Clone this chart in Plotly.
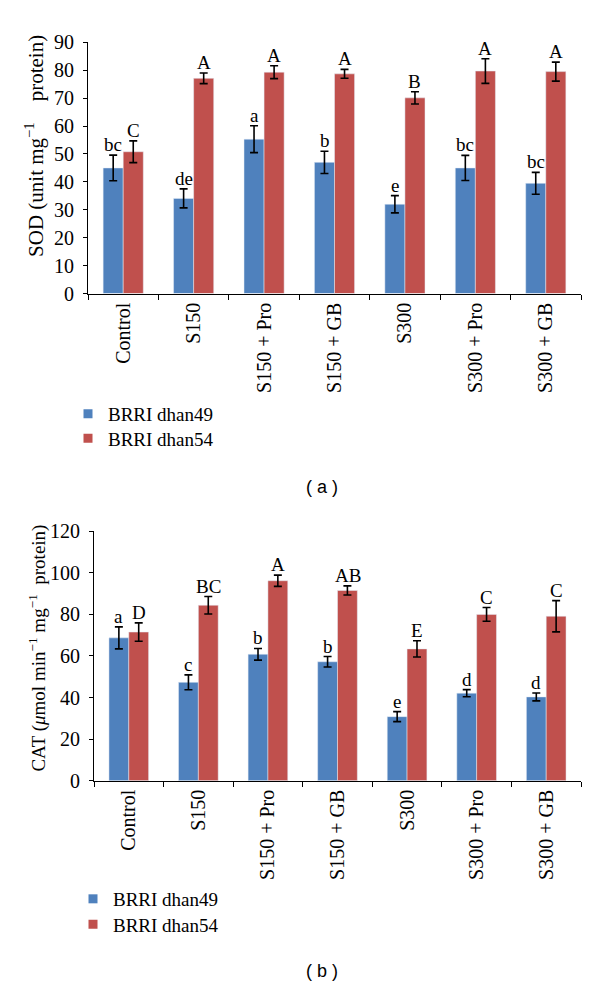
import plotly.graph_objects as go

categories = ["Control", "S150", "S150 + Pro", "S150 + GB", "S300", "S300 + Pro", "S300 + GB"]
series_names = ["BRRI dhan49", "BRRI dhan54"]

sod_49 = [45.0, 34.1, 55.3, 47.0, 32.0, 45.0, 39.5]
sod_49_err = [4.6, 3.4, 4.8, 4.0, 3.1, 4.5, 3.9]
sod_54 = [50.8, 77.1, 79.3, 78.7, 70.1, 79.7, 79.5]
sod_54_err = [3.9, 1.9, 2.3, 1.6, 2.2, 4.4, 3.4]
sod_49_letters = ["bc", "de", "a", "b", "e", "bc", "bc"]
sod_54_letters = ["C", "A", "A", "A", "B", "A", "A"]

cat_49 = [68.7, 47.3, 60.8, 57.2, 30.8, 42.1, 40.3]
cat_49_err = [5.3, 3.6, 2.8, 2.5, 2.4, 1.7, 1.9]
cat_54 = [71.5, 84.4, 96.2, 91.5, 63.4, 80.0, 79.1]
cat_54_err = [4.4, 4.2, 2.7, 2.2, 3.9, 3.3, 7.5]
cat_49_letters = ["a", "c", "b", "b", "e", "d", "d"]
cat_54_letters = ["D", "BC", "A", "AB", "E", "C", "C"]

sod_ticks = [0, 10, 20, 30, 40, 50, 60, 70, 80, 90]
cat_ticks = [0, 20, 40, 60, 80, 100, 120]

BLUE = "#4F81BD"
RED = "#C0504D"
SERIF = "Liberation Serif"
W, H = 600, 997
NB = "\u00a0"

fig = go.Figure()

def add_pair(xaxis, yaxis, v49, e49, v54, e54, legends):
    for vals, errs, col, nm in ((v49, e49, BLUE, series_names[0]), (v54, e54, RED, series_names[1])):
        fig.add_trace(go.Bar(x=categories, y=vals, name=nm, marker_color=col,
                             error_y=dict(type="data", array=errs, color="black", thickness=1.6, width=4),
                             xaxis=xaxis, yaxis=yaxis, showlegend=False))
    for col, nm, lg in ((BLUE, series_names[0], legends[0]), (RED, series_names[1], legends[1])):
        fig.add_trace(go.Scatter(x=[None], y=[None], mode="markers", name=nm,
                                 marker=dict(symbol="square", size=9, color=col),
                                 xaxis=xaxis, yaxis=yaxis, legend=lg, showlegend=True))

add_pair("x", "y", sod_49, sod_49_err, sod_54, sod_54_err, ("legend", "legend2"))
add_pair("x2", "y2", cat_49, cat_49_err, cat_54, cat_54_err, ("legend3", "legend4"))

def letters(xref, yref, vals, errs, labs, shift):
    for c, v, e, l in zip(categories, vals, errs, labs):
        fig.add_annotation(x=c, y=v + e, text=l, xref=xref, yref=yref, showarrow=False,
                           yanchor="bottom", xanchor="center", xshift=shift, yshift=-2,
                           font=dict(family=SERIF, size=19, color="black"))

letters("x", "y", sod_49, sod_49_err, sod_49_letters, -10)
letters("x", "y", sod_54, sod_54_err, sod_54_letters, 10)
letters("x2", "y2", cat_49, cat_49_err, cat_49_letters, -10)
letters("x2", "y2", cat_54, cat_54_err, cat_54_letters, 10)

xcommon = dict(type="category", tickson="boundaries", ticks="outside", ticklen=5, tickwidth=1.2,
               tickcolor="black", showline=True, linecolor="black", linewidth=1.2,
               tickangle=-90, tickfont=dict(family=SERIF, size=20, color="black"), showgrid=False)
ycommon = dict(ticks="outside", ticklen=4, tickwidth=1.2, tickcolor="black", showline=True,
               linecolor="black", linewidth=1.2, showgrid=False, zeroline=False,
               ticklabelstandoff=5,
               tickfont=dict(family=SERIF, size=20, color="black"))

def leg(xpx, ypx):
    return dict(x=xpx / W, y=1 - ypx / H, xanchor="left", yanchor="middle", bgcolor="rgba(0,0,0,0)",
                font=dict(family=SERIF, size=19, color="black"), itemwidth=30)

fig.update_layout(
    width=W, height=H, margin=dict(l=0, r=0, t=0, b=0),
    plot_bgcolor="white", paper_bgcolor="white",
    barmode="group", bargap=0.43, bargroupgap=0,
    xaxis=dict(domain=[88 / W, 581 / W], anchor="y", **xcommon),
    yaxis=dict(domain=[1 - 289 / H, 1 - 32 / H], anchor="x", range=[0, 90], tickvals=sod_ticks, **ycommon),
    xaxis2=dict(domain=[94 / W, 581 / W], anchor="y2", **xcommon),
    yaxis2=dict(domain=[1 - 787 / H, 1 - 532 / H], anchor="x2", range=[0, 120], tickvals=cat_ticks, **ycommon),
    legend=leg(68, 412),
    legend2=leg(68, 437),
    legend3=leg(73, 908),
    legend4=leg(73, 934),
    showlegend=True,
)

# y-axis titles
fig.add_annotation(x=35 / W, y=1 - 138 / H, xref="paper", yref="paper", textangle=-90, showarrow=False,
                   xanchor="center", yanchor="middle",
                   text="SOD (unit mg<sup>−1</sup>" + NB * 4 + "protein)",
                   font=dict(family=SERIF, size=21, color="black"))
fig.add_annotation(x=38 / W, y=1 - 652 / H, xref="paper", yref="paper", textangle=-90, showarrow=False,
                   xanchor="center", yanchor="middle",
                   text="CAT (<i>μ</i>mol" + NB + "min<sup>−1</sup>" + NB + "mg<sup>−1</sup>" + NB * 2 + "protein)",
                   font=dict(family=SERIF, size=19, color="black"))

fig.add_annotation(x=322 / W, y=1 - 487 / H, xref="paper", yref="paper", text="( a )", showarrow=False,
                   xanchor="center", yanchor="middle",
                   font=dict(family="Liberation Sans", size=18, color="black"))
fig.add_annotation(x=322 / W, y=1 - 982 / H, xref="paper", yref="paper", text="( b )", showarrow=False,
                   xanchor="center", yanchor="middle",
                   font=dict(family="Liberation Sans", size=18, color="black"))

fig.write_html("out.html", config={"displayModeBar": False},
               post_script="document.body.style.margin='0px';")
